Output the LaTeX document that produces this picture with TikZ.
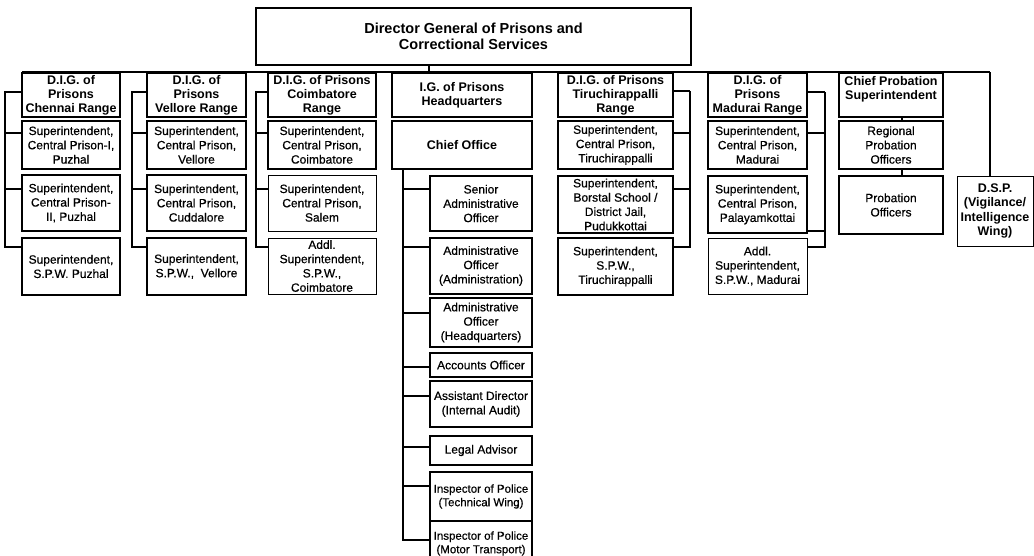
\documentclass[tikz,border=0pt]{standalone}
\usepackage{fontspec}
\setmainfont{Liberation Sans}
\newfontfamily\regf{Liberation Sans}[FakeBold=0.5]
\begin{document}
\begin{tikzpicture}[x=1pt,y=-1pt,
  every node/.style={inner sep=0pt, outer sep=0pt, align=center, anchor=north west, text=black, fill=white},
  dgbox/.style={draw, line width=2.6pt, font=\bfseries\fontsize{14.5}{16.5}\selectfont},
  hb/.style={draw, line width=2.5pt, font=\bfseries\fontsize{12.5}{14}\selectfont},
  tb/.style={draw, line width=2.5pt, font=\regf\fontsize{12}{14.3}\selectfont},
  nb/.style={draw, line width=1pt, font=\regf\fontsize{12}{14.3}\selectfont},
  conn/.style={line width=1.1pt},
  tconn/.style={line width=2.2pt}]
\useasboundingbox (0,0) rectangle (1034,555);
\clip (0,0) rectangle (1034,555);
\fill[white] (0,0) rectangle (1034,555);

\coordinate (busL) at (22,72);
\coordinate (busR) at (990,72);
\coordinate (dgs) at (429,72);

% top box
\node[dgbox, minimum width=435pt, minimum height=57pt] (dg) at (256,8) {Director General of Prisons and\\Correctional Services};

% Chennai
\node[hb, minimum width=98pt, minimum height=44pt] (chdig) at (22,73) {D.I.G. of\\Prisons\\Chennai Range};
\node[tb, minimum width=98pt, minimum height=48pt] (c1a) at (22,121) {Superintendent,\\Central Prison-I,\\Puzhal};
\node[tb, minimum width=98pt, minimum height=56pt] (c1b) at (22,175) {Superintendent,\\Central Prison-\\II, Puzhal};
\node[tb, minimum width=98pt, minimum height=57pt] (c1c) at (22,238) {Superintendent,\\S.P.W. Puzhal};

% Vellore
\node[hb, minimum width=99pt, minimum height=44pt] (vedig) at (147,73) {D.I.G. of\\Prisons\\Vellore Range};
\node[tb, minimum width=99pt, minimum height=48pt] (v1a) at (147,121) {Superintendent,\\Central Prison,\\Vellore};
\node[tb, minimum width=99pt, minimum height=56pt] (v1b) at (147,175) {Superintendent,\\Central Prison,\\Cuddalore};
\node[tb, minimum width=99pt, minimum height=57pt] (v1c) at (147,238) {Superintendent,\\S.P.W.,\ \ Vellore};

% Coimbatore
\node[hb, minimum width=108pt, minimum height=44pt] (codig) at (268,73) {D.I.G. of Prisons\\Coimbatore\\Range};
\node[tb, minimum width=108pt, minimum height=48pt] (co1a) at (268,121) {Superintendent,\\Central Prison,\\Coimbatore};
\node[nb, minimum width=108pt, minimum height=56pt] (co1b) at (268,175) {Superintendent,\\Central Prison,\\Salem};
\node[nb, minimum width=108pt, minimum height=56pt] (co1c) at (268,238) {Addl.\\Superintendent,\\S.P.W.,\\Coimbatore};

% IG Headquarters
\node[hb, minimum width=140pt, minimum height=44pt] (ig) at (392,73) {I.G. of Prisons\\Headquarters};
\node[hb, minimum width=140pt, minimum height=48pt] (chief) at (392,121) {Chief Office};
\node[tb, minimum width=102pt, minimum height=55pt] (sao) at (430,176) {Senior\\Administrative\\Officer};
\node[tb, minimum width=102pt, minimum height=56pt] (ao) at (430,238) {Administrative\\Officer\\(Administration)};
\node[tb, minimum width=102pt, minimum height=49pt] (aohq) at (430,298) {Administrative\\Officer\\(Headquarters)};
\node[tb, minimum width=102pt, minimum height=24pt] (acc) at (430,353) {Accounts Officer};
\node[tb, minimum width=102pt, minimum height=46pt] (ad) at (430,381) {Assistant Director\\(Internal Audit)};
\node[tb, minimum width=102pt, minimum height=29pt] (legal) at (430,436) {Legal Advisor};
\node[tb, minimum width=102pt, minimum height=49pt, font=\regf\fontsize{11.5}{13.5}\selectfont] (ipt) at (430,472) {Inspector of Police\\(Technical Wing)};
\node[tb, minimum width=102pt, minimum height=45pt, font=\regf\fontsize{11.5}{13.5}\selectfont] (ipm) at (430,521) {Inspector of Police\\(Motor Transport)};

% Tiruchirappalli
\node[hb, minimum width=115pt, minimum height=44pt] (tidig) at (558,73) {D.I.G. of Prisons\\Tiruchirappalli\\Range};
\node[tb, minimum width=115pt, minimum height=48pt] (t1a) at (558,121) {Superintendent,\\Central Prison,\\Tiruchirappalli};
\node[tb, minimum width=115pt, minimum height=57pt] (t1b) at (558,176) {Superintendent,\\Borstal School /\\District Jail,\\Pudukkottai};
\node[tb, minimum width=115pt, minimum height=57pt] (t1c) at (558,238) {Superintendent,\\S.P.W.,\\Tiruchirappalli};

% Madurai
\node[hb, minimum width=99pt, minimum height=44pt] (madig) at (708,73) {D.I.G. of\\Prisons\\Madurai Range};
\node[tb, minimum width=99pt, minimum height=48pt] (m1a) at (708,121) {Superintendent,\\Central Prison,\\Madurai};
\node[tb, minimum width=99pt, minimum height=57pt] (m1b) at (708,176) {Superintendent,\\Central Prison,\\Palayamkottai};
\node[nb, minimum width=99pt, minimum height=56pt] (m1c) at (708,238) {Addl.\\Superintendent,\\S.P.W., Madurai};

% Probation
\node[hb, minimum width=104pt, minimum height=44pt] (cps) at (839,73) {Chief Probation\\Superintendent\\\mbox{}};
\node[tb, minimum width=104pt, minimum height=48pt] (rpo) at (839,121) {Regional\\Probation\\Officers};
\node[tb, minimum width=104pt, minimum height=58pt] (po) at (839,176) {Probation\\Officers};

% DSP
\node[nb, minimum width=76pt, minimum height=70pt, font=\bfseries\fontsize{12.5}{14.3}\selectfont] (dsp) at (957,176) {D.S.P.\\(Vigilance/\\Intelligence\\Wing)};

% ---- connectors ----
\draw[line width=1.4pt] (busL) -- (busR);
\draw[conn] (busR) -- (busR |- dsp.north);
\draw[conn] (dgs |- dg.south) -- (dgs);

% Chennai spine (x=5)
\draw[conn] ([yshift=-19pt]chdig.north west) -- ++(-17,0) -- ++(0,155) -- ++(17,0);
\draw[conn] ([yshift=-12pt]c1a.north west) -- ++(-17,0);
\draw[conn] ([yshift=-14pt]c1b.north west) -- ++(-17,0);

% Vellore spine (x=132)
\draw[conn] ([yshift=-19pt]vedig.north west) -- ++(-15,0) -- ++(0,155) -- ++(15,0);
\draw[conn] ([yshift=-12pt]v1a.north west) -- ++(-15,0);
\draw[conn] ([yshift=-14pt]v1b.north west) -- ++(-15,0);

% Coimbatore spine (x=256)
\draw[conn] ([yshift=-19pt]codig.north west) -- ++(-12,0) -- ++(0,155) -- ++(12,0);
\draw[conn] ([yshift=-12pt]co1a.north west) -- ++(-12,0);
\draw[conn] ([yshift=-14pt]co1b.north west) -- ++(-12,0);

% IG spine (x=403)
\draw[tconn] ([xshift=11pt]chief.south west) -- ++(0,371) -- ++(27,0);
\draw[tconn] ([yshift=-13pt]sao.north west) -- ++(-27,0);
\draw[tconn] ([yshift=-9pt]ao.north west) -- ++(-27,0);
\draw[tconn] ([yshift=-15pt]aohq.north west) -- ++(-27,0);
\draw[tconn] ([yshift=-14pt]acc.north west) -- ++(-27,0);
\draw[tconn] ([yshift=-15pt]ad.north west) -- ++(-27,0);
\draw[conn] ([yshift=-11pt]legal.north west) -- ++(-27,0);
\draw[tconn] ([yshift=-14pt]ipt.north west) -- ++(-27,0);

% Tiruchirappalli spine (x=690)
\draw[tconn] ([yshift=-18pt]tidig.north east) -- ++(17,0);
\draw[conn] ([yshift=-18pt,xshift=17pt]tidig.north east) -- ++(0,156) -- ++(-17,0);
\draw[conn] ([yshift=-12pt]t1a.north east) -- ++(17,0);
\draw[conn] ([yshift=-13pt]t1b.north east) -- ++(17,0);

% Madurai spine (x=825)
\draw[tconn] ([yshift=-19pt]madig.north east) -- ++(18,0);
\draw[conn] ([yshift=-19pt,xshift=18pt]madig.north east) -- ++(0,155) -- ++(-18,0);
\draw[conn] ([yshift=-12pt]m1a.north east) -- ++(18,0);
\draw[conn] ([yshift=-55pt]m1b.north east) -- ++(18,0);

% Probation chain (x=902)
\draw[conn] ([xshift=63pt]cps.south west) -- ([xshift=63pt]rpo.north west);
\draw[conn] ([xshift=63pt]rpo.south west) -- ([xshift=63pt]po.north west);
\end{tikzpicture}
\end{document}
